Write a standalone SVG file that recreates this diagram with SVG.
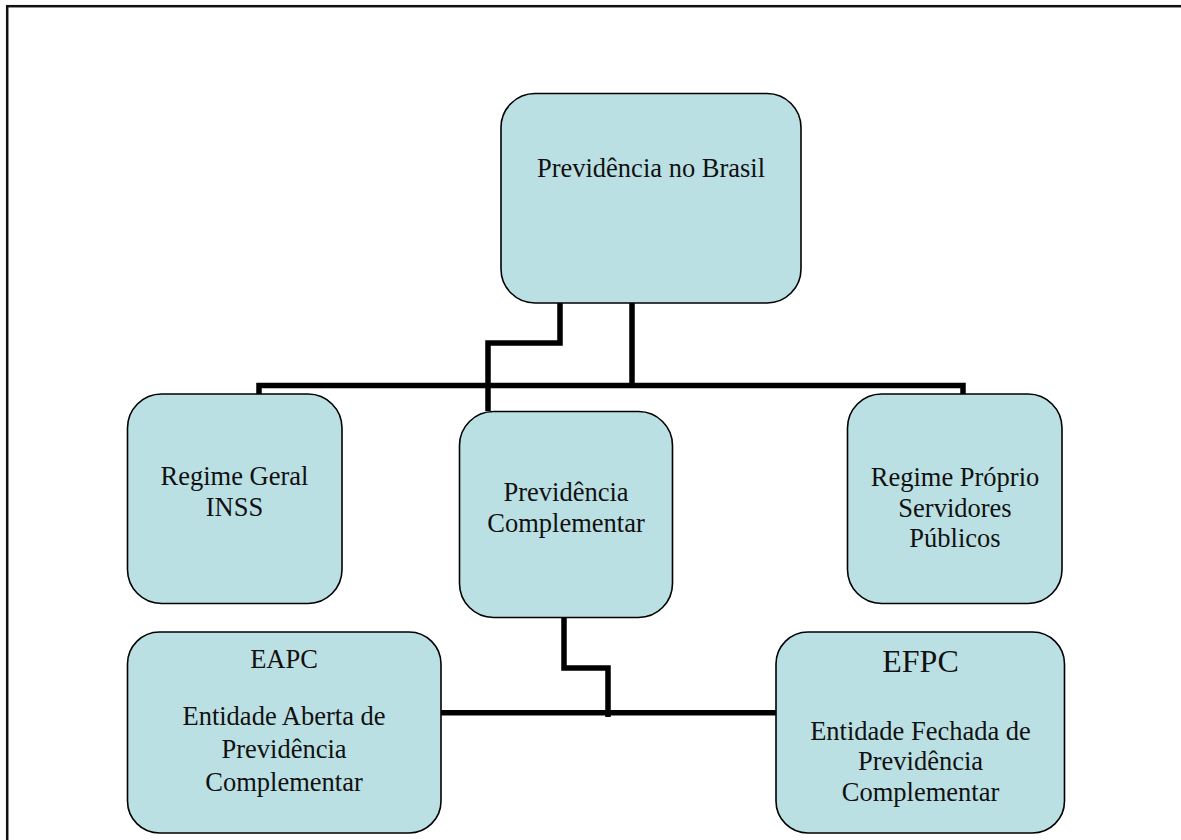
<svg xmlns="http://www.w3.org/2000/svg" width="1181" height="840" viewBox="0 0 1181 840">
<style>
.box{fill:#BBE0E3;stroke:#000;stroke-width:1.6}
.t{font-family:"Liberation Serif","Times New Roman",serif;font-size:26.5px;fill:#111;text-anchor:middle}
.big{font-size:32px}
.con{fill:none;stroke:#000;stroke-width:5.5;stroke-linejoin:miter;stroke-linecap:butt}
</style>
<rect width="1181" height="840" fill="#fff"/>
<rect x="7.2" y="6.2" width="1300" height="1000" fill="none" stroke="#111" stroke-width="2.5"/>
<g id="connectors">
<path class="con" d="M560 303 V343 H488 V411"/>
<path class="con" d="M632 303 V385.5"/>
<path class="con" d="M259 394 V385.5 H963 V394"/>
<path class="con" d="M564 617 V668 H608 V717"/>
<path class="con" d="M441 712.7 H776"/>
</g>
<g id="node-previdencia-brasil">
<rect class="box" x="501" y="93.5" width="300" height="209.5" rx="34"/>
<text class="t" x="651" y="177">Previdência no Brasil</text>
</g>
<g id="node-regime-geral">
<rect class="box" x="127.5" y="394" width="214.5" height="209.5" rx="34"/>
<text class="t" x="234.5" y="485">Regime Geral</text>
<text class="t" x="234.5" y="516">INSS</text>
</g>
<g id="node-previdencia-complementar">
<rect class="box" x="459.5" y="411.5" width="213" height="206" rx="34"/>
<text class="t" x="566" y="501">Previdência</text>
<text class="t" x="566" y="532">Complementar</text>
</g>
<g id="node-regime-proprio">
<rect class="box" x="847.5" y="394" width="214.5" height="209.5" rx="34"/>
<text class="t" x="955" y="486">Regime Próprio</text>
<text class="t" x="955" y="517">Servidores</text>
<text class="t" x="955" y="547">Públicos</text>
</g>
<g id="node-eapc">
<rect class="box" x="127.5" y="632" width="313.5" height="201" rx="32"/>
<text class="t" x="284" y="668">EAPC</text>
<text class="t" x="284" y="725">Entidade Aberta de</text>
<text class="t" x="284" y="758">Previdência</text>
<text class="t" x="284" y="791">Complementar</text>
</g>
<g id="node-efpc">
<rect class="box" x="776" y="632" width="288.5" height="201" rx="32"/>
<text class="t big" x="920.5" y="672">EFPC</text>
<text class="t" x="920.5" y="740">Entidade Fechada de</text>
<text class="t" x="920.5" y="770">Previdência</text>
<text class="t" x="920.5" y="801">Complementar</text>
</g>
</svg>
